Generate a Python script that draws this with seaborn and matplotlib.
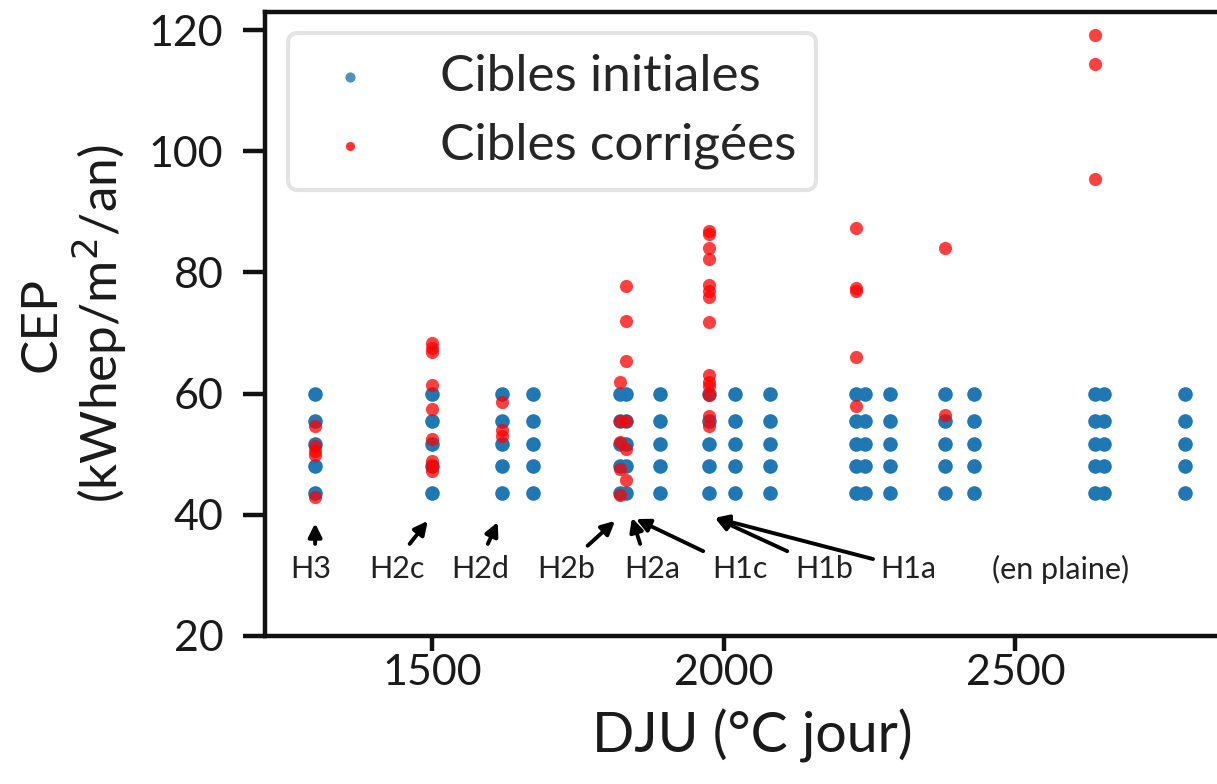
import matplotlib
matplotlib.use("Agg")
import matplotlib.pyplot as plt
import seaborn as sns
import pandas as pd

# ---- data ----
blue_dju = [1300, 1501, 1620, 1674, 1822, 1833, 1891, 1975, 2019, 2080,
            2227, 2242, 2285, 2380, 2429, 2637, 2652, 2791]
blue_levels = [60.0, 55.5, 51.7, 48.0, 43.6]

red_dju = ([1300] * 5 + [1501] * 9 + [1620] * 3 + [1822] * 5 + [1833] * 6
           + [1975] * 14 + [2227] * 5 + [2380] * 2 + [2637] * 3)
red_cep = [54.6, 51.3, 50.5, 49.8, 43.0,
           68.4, 67.6, 66.9, 61.4, 57.5, 52.5, 48.9, 48.0, 47.2,
           58.6, 54.0, 53.0,
           61.9, 52.0, 47.6, 43.2, 55.5,
           77.8, 72.0, 65.4, 55.5, 50.9, 45.8,
           86.9, 86.4, 84.1, 82.2, 78.0, 77.0, 76.0, 71.8, 63.0, 62.0, 61.2, 59.7, 56.3, 54.6,
           87.3, 77.5, 77.0, 66.0, 58.0,
           84.0, 56.5,
           119.2, 114.4, 95.4]

zone_labels = ["H3", "H2c", "H2d", "H2b", "H2a", "H1c", "H1b", "H1a", "(en plaine)"]
label_x = [1292, 1440, 1583, 1731, 1877, 2028, 2172, 2316, 2577]
arrow_tail_x = [1300, 1462, 1596, 1767, 1857, 1965, 2109, 2256, None]
arrow_tail_y = [35.2, 35.2, 35.2, 34.9, 35.2, 34.0, 34.0, 32.7, None]
arrow_tip_x = [1300, 1493, 1613, 1814, 1843, 1850, 1985, 1985, None]
arrow_tip_y = [38.6, 39.0, 38.8, 39.0, 39.5, 39.3, 39.5, 39.5, None]

series_names = ["Cibles initiales", "Cibles corrigées"]

rows = []
for x in blue_dju:
    for v in blue_levels:
        rows.append((x, v, series_names[0]))
for x, v in zip(red_dju, red_cep):
    rows.append((x, v, series_names[1]))
df = pd.DataFrame(rows, columns=["DJU", "CEP", "serie"])

# ---- style ----
sns.set_theme(style="ticks")
plt.rcParams["font.family"] = ["Lato", "DejaVu Sans"]

fig = plt.figure(figsize=(12.17, 7.84), dpi=100)
ax = fig.add_axes([0.2177, 0.1888, 0.8012, 0.7959])

sns.scatterplot(data=df[df.serie == series_names[0]], x="DJU", y="CEP",
                color="#1f77b4", s=110, linewidth=0, ax=ax,
                label=series_names[0], zorder=2)
sns.scatterplot(data=df[df.serie == series_names[1]], x="DJU", y="CEP",
                color=(1, 0, 0), alpha=0.75, s=90, linewidth=0, ax=ax,
                label=series_names[1], zorder=3)

ax.set_xlim(1214, 2885)
ax.set_ylim(20, 123)
ax.set_xticks([1500, 2000, 2500])
ax.set_yticks([20, 40, 60, 80, 100, 120])

for sp in ["left", "bottom", "top", "right"]:
    ax.spines[sp].set_linewidth(3.2)
    ax.spines[sp].set_color("#111111")
ax.tick_params(axis="both", labelsize=31, width=3.2, color="#111111",
               labelcolor="#1a1a1a")
ax.tick_params(axis="y", length=16, pad=14)
ax.tick_params(axis="x", length=11, pad=2)

ax.set_xlabel("DJU (°C jour)", fontsize=40, color="#1a1a1a", labelpad=12)
ax.set_ylabel("CEP\n(kWhep/m$^2$/an)", fontsize=37, color="#1a1a1a", labelpad=14,
              linespacing=1.1)

for i, lab in enumerate(zone_labels):
    ax.text(label_x[i], 31.0, lab, fontsize=22, ha="center", va="center",
            color="#222222")
    if arrow_tail_x[i] is not None:
        ax.annotate("", xy=(arrow_tip_x[i], arrow_tip_y[i]),
                    xytext=(arrow_tail_x[i], arrow_tail_y[i]),
                    arrowprops=dict(arrowstyle="-|>", color="black", lw=2.8,
                                    mutation_scale=20, shrinkA=0, shrinkB=0))

leg = ax.legend(loc="upper left", bbox_to_anchor=(0.0236, 0.966), borderaxespad=0,
                fontsize=37, markerscale=0.7, handletextpad=0.95, handlelength=1.6,
                borderpad=0.4, labelspacing=0.45, frameon=True, fancybox=True)
leg.get_frame().set_edgecolor("#dddddd")
leg.get_frame().set_linewidth(3)
for h in leg.legend_handles:
    h.set_alpha(0.8)

fig.savefig("out.png", dpi=100)
